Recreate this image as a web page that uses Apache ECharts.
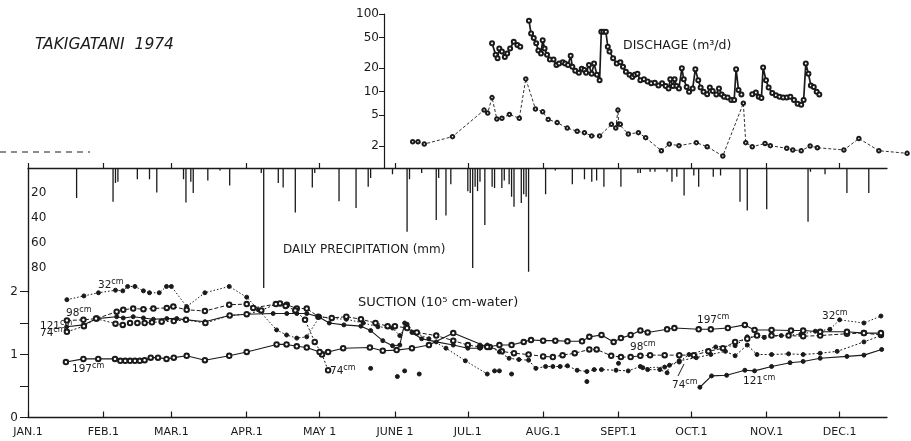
<!DOCTYPE html>
<html><head><meta charset="utf-8">
<script src="https://cdn.jsdelivr.net/npm/echarts@6/dist/echarts.min.js"></script>
<style>html,body{margin:0;padding:0;background:#fff}#c{width:911px;height:441px}</style>
</head><body><div id="c"></div>
<script>
// ---------- DATA (day of year 1974, 0 = Jan 1) ----------
const monthDays = [0,31,59,90,120,151,181,212,243,273,304,334];
const monthLabels = ['JAN.1','FEB.1','MAR.1','APR.1','MAY 1','JUNE 1','JUL.1','AUG.1','SEPT.1','OCT.1','NOV.1','DEC.1'];
const dischargeTicks = [2,5,10,20,50,100];
const precipTicks = [20,40,60,80];
const suctionTicks = [0,0.5,1,1.5,2];
const suctionLabels = [0,1,2];

// discharge (m3/d), solid line, three segments
const dischargeSeg1 = [[191.3,42],[192.8,30],[193.6,27],[194.3,36],[195.4,33],[196.6,28],[197.6,31],[198.8,36],[200.3,44],[201.8,40],[203.0,38]];
const dischargeSeg2 = [[206.6,82],[207.5,56],[208.6,49],[209.6,42],[210.5,34],[211.6,31],[212.3,46],[213.1,36],[214.1,30],[215.3,26],[216.8,26],[218.0,22],[219.1,23],[220.6,24],[221.6,23],[222.8,22],[223.9,29],[224.6,21],[225.8,18.6],[227.3,17.5],[228.5,19.8],[229.6,19],[230.3,17.5],[231.5,22],[232.6,17],[233.6,23],[234.8,16.5],[235.9,14],[236.6,59],[237.5,59],[238.5,59],[239.3,38],[240.0,33],[241.5,27],[243.0,23],[244.5,24],[245.6,21],[246.8,18],[248.3,16.5],[249.5,15.5],[250.5,16.5],[251.6,17],[252.8,14],[254.3,14.5],[255.8,13.5],[257.3,12.8],[258.8,13],[260.3,12],[261.8,12.8],[263.3,11.8],[264.5,11],[265.2,14.5],[266.3,11.8],[267.0,14.5],[267.8,11.8],[268.8,11],[270.0,20],[270.8,14.5],[272.0,11.5],[273.0,10],[274.5,11],[275.6,19.5],[276.8,14],[277.8,11.3],[279.0,10],[280.5,9.3],[281.6,11.3],[282.8,10.2],[284.3,9.2],[285.4,11],[286.5,9.2],[287.5,8.6],[289.0,8.4],[290.5,7.8],[291.7,7.8],[292.5,19.5],[293.5,10.5],[294.7,9.2]];
const dischargeSeg3 = [[299.2,9.3],[300.7,9.8],[301.9,8.6],[303.0,8.3],[303.7,20.5],[304.9,14],[306.0,11.3],[307.5,9.6],[309.0,9.0],[310.5,8.6],[312.0,8.4],[313.5,8.4],[315.0,8.6],[316.5,7.8],[318.0,7.0],[319.5,6.8],[320.5,7.8],[321.4,23],[322.5,17],[323.5,12],[324.7,11.5],[325.9,10],[327.0,9.2]];
// second discharge record, dashed line
const dischargeDashed = [[158.4,2.27],[160.6,2.27],[163.2,2.12],[174.9,2.64],[188.0,5.8],[189.5,5.3],[191.3,8.4],[193.3,4.45],[195.4,4.55],[198.5,5.1],[202.6,4.55],[205.3,14.6],[209.3,6.0],[212.3,5.5],[214.6,4.4],[218.3,4.0],[222.5,3.4],[226.6,3.1],[229.6,2.97],[232.6,2.7],[235.9,2.7],[240.8,3.8],[242.6,3.4],[243.5,5.8],[243.8,3.85],[244.5,3.8],[247.8,2.86],[252.0,2.97],[255.0,2.56],[261.5,1.74],[264.8,2.12],[268.8,2.02],[276.0,2.21],[280.5,1.96],[287.0,1.49],[295.5,7.1],[296.5,2.21],[299.2,1.96],[304.5,2.15],[306.7,2.02],[313.5,1.87],[316.0,1.78],[319.5,1.74],[323.2,2.0],[326.2,1.9],[337.2,1.78],[343.4,2.5],[351.7,1.74],[363.4,1.61]];

// daily precipitation (mm)
const precipitation = [[20,24],[35,27],[36,12],[37,11],[45,9],[50,9],[53,19.5],[64,9],[65,27.5],[67,11],[68,20],[74,10],[79,2],[83,14],[96,4],[97,96],[103,12],[105,15.5],[110,35.5],[117,15.5],[118,4],[128,26.5],[135,32],[140,15],[141,8],[150,5],[156,51],[157,9],[162,4],[168,41.5],[169,8],[172,38],[174,13],[181,18.5],[182,20],[183,80],[184,15],[185,18.5],[186,11],[188,45.5],[191,15],[192,16],[195,16],[196,10],[198,13],[199,23],[200,31],[203,28],[204,21],[205,23],[206,83],[213,21],[217,2],[224,13],[229,9],[232,11],[234,10],[237,15],[244,15],[251,4],[252,4],[256,3],[258,3],[263,3],[265,11],[267,7],[270,22],[274,6],[276,15],[282,7],[285,6],[293,27],[296,34],[304,33],[321,43],[322,3],[328,5],[337,20],[346,20]];

// suction (10^5 cm-water)
const suction32 = [[16,1.87],[23,1.93],[29,1.98],[36,2.02],[39,2.01],[41,2.08],[44,2.08],[47.5,2.01],[50,1.98],[54,1.98],[57,2.08],[59,2.08],[65.3,1.76],[72.8,1.98],[82.8,2.08],[90,1.91],[94.8,1.71],[102.3,1.39],[106.4,1.31],[110.6,1.26],[114.7,1.28],[120,1.6],[125,1.57],[131,1.56],[138,1.5],[144,1.44],[150,1.42],[153,1.3],[156,1.48],[159,1.35],[165,1.25],[172,1.1],[180,0.9],[189,0.69]];
const suction32dots = [[192,0.74],[194,0.74],[199,0.69],[230,0.57],[243,0.86]];
const suction32b = [[253,0.79],[262,0.8],[268,0.88],[272,1.0],[283,1.12],[291,1.14],[296,1.28],[303,1.27],[310,1.3],[318,1.32],[324,1.37],[330,1.4],[334,1.55],[344,1.5],[351,1.61]];
const suction98 = [[16,1.54],[22.8,1.55],[28.3,1.57],[36.5,1.68],[39.2,1.71],[43.3,1.73],[47.5,1.72],[51.6,1.73],[57.1,1.74],[59.8,1.76],[65.3,1.71],[72.8,1.69],[82.8,1.79],[90,1.8],[92.7,1.74],[103.7,1.81],[106.5,1.79],[110.6,1.73],[114.7,1.73],[119.5,1.6],[125,1.58],[131,1.6],[137,1.56],[143,1.5],[148,1.45],[151,1.45],[156,1.42],[160,1.35],[168,1.3],[175,1.22],[181,1.15],[186,1.12],[190,1.12],[195,1.05],[200,1.02],[206,1.0],[212,0.97],[216,0.96],[220,0.99],[225,1.02],[231,1.08],[234,1.08],[240,0.98],[244,0.96],[248,0.96],[252,0.98],[256,0.99],[262,0.99],[268,0.99],[274,0.99],[280,1.05],[286,1.1],[291,1.2],[296,1.25],[300,1.3],[306,1.3],[313,1.3],[319,1.29],[326,1.3],[337,1.33],[344,1.34],[351,1.31]];
const suction121a = [[15.9,1.44],[22.8,1.47],[28.3,1.57],[36.5,1.6],[39.2,1.58],[43.3,1.6],[47.5,1.58],[51.6,1.56],[57.1,1.57],[61.2,1.57],[65.3,1.55],[72.8,1.52],[82.8,1.62],[90,1.64],[100.9,1.65],[106.5,1.65],[110.6,1.65],[114.7,1.65],[119.5,1.6],[124,1.5],[130,1.47],[137,1.45],[141,1.38],[146,1.22],[150,1.14],[153,1.15],[155,1.5],[158,1.35],[162,1.25],[168,1.2],[175,1.15],[181,1.1],[186,1.1]];
const suction121b = [[276.5,0.48],[281.3,0.66],[287.5,0.67],[295,0.75],[299,0.74],[306,0.81],[313.6,0.87],[319,0.89],[326,0.94],[337,0.97],[344,0.99],[351.3,1.08]];
const suction74a = [[16,1.36],[23,1.45],[28,1.57],[36,1.49],[39,1.47],[42,1.5],[45,1.5],[48,1.5],[51,1.51],[55,1.52],[60,1.53],[65,1.55],[73,1.5],[83,1.62],[90,1.64],[96,1.7],[102,1.8],[106,1.77],[110,1.7],[114,1.55],[118,1.2],[121,1.0],[123.5,0.75]];
const suction74dots = [[141,0.78],[152,0.65],[155,0.74],[161,0.69]];
const suction74b = [[186,1.15],[189,1.15],[194,1.04],[198,0.94],[202,0.92],[206,0.91],[209,0.78],[213,0.81],[216,0.81],[219,0.81],[222,0.82],[226,0.75],[230,0.73],[233,0.76],[236,0.76],[242,0.75],[247,0.74],[252,0.81],[255,0.76],[260,0.76],[263,0.71],[264,0.83],[268,0.9],[275,0.95],[281,1.0],[287,1.05],[291,0.98],[296,1.15],[300,1.0],[306,1.0],[313,1.01],[319,1.0],[326,1.02],[333,1.05],[344,1.2],[351,1.3]];
const suction197 = [[15.6,0.88],[22.8,0.93],[28.9,0.93],[35.8,0.93],[38,0.9],[40,0.9],[42,0.9],[44,0.9],[46,0.9],[48,0.91],[50.5,0.95],[53.5,0.95],[57,0.93],[60,0.95],[65.3,0.98],[72.8,0.91],[82.8,0.98],[90,1.04],[102.3,1.16],[106.4,1.16],[110.6,1.13],[114.7,1.11],[120,1.04],[123.5,1.04],[129.7,1.1],[140.7,1.11],[146,1.06],[151.7,1.07],[158,1.1],[165,1.15],[175,1.34],[189,1.12],[194,1.15],[199,1.15],[204,1.2],[207,1.23],[212,1.22],[217,1.22],[222,1.21],[228,1.21],[231,1.28],[236,1.31],[241,1.2],[244,1.26],[248,1.31],[252,1.38],[255,1.35],[263,1.4],[266,1.42],[276,1.4],[281,1.4],[288,1.42],[295,1.47],[299,1.39],[306,1.39],[314,1.38],[319,1.38],[326,1.36],[337,1.36],[344,1.34],[351,1.34]];

// ---------- CHART ----------
const FONT = 'DejaVu Sans';
const INK = '#1a1a1a';
const PXD = 2.43; // px per day
const chart = echarts.init(document.getElementById('c'), null, {renderer:'canvas'});
const log = v => Math.log10(v);
const toLog = arr => arr.map(p => [p[0], log(p[1])]);

const qTop = 14, qBottom = 168, qPerDecade = 77.7;
const qMin = 2 - (qBottom - qTop) / qPerDecade;
const xLeft = 28, xEndDay = 353.5;
const qLeft = 384;

function hiddenX(idx, min, max){
  return {type:'value', gridIndex:idx, min, max, show:false};
}

const monthFmt = v => { const i = monthDays.indexOf(Math.round(v)); return i >= 0 ? monthLabels[i] : ''; };

const lineBase = (name, data, xi, yi, dash, symbol, width) => ({
  type:'line', name, data, xAxisIndex:xi, yAxisIndex:yi, animation:false,
  symbol, symbolSize: symbol === 'emptyCircle' ? 4.5 : 4,
  lineStyle:{color:INK, width: width || 1, type: dash},
  itemStyle:{color:INK, borderColor:INK, borderWidth:1},
  showSymbol:true, connectNulls:false, silent:true
});

const supLabel = (x, y, num) => ({
  type:'text', x, y, silent:true,
  style:{ text:'{a|' + num + '}{b|cm}', fill:INK, verticalAlign:'middle',
    rich:{ a:{fontFamily:FONT, fontSize:10.5, fill:INK}, b:{fontFamily:FONT, fontSize:8, fill:INK, verticalAlign:'top', padding:[0,0,6,0]} } }
});

const option = {
  backgroundColor:'#fff',
  animation:false,
  grid:[
    {left:qLeft, right:-4, top:qTop, bottom:441 - qBottom},        // discharge
    {left:xLeft, right:911 - (xLeft + PXD*xEndDay), top:168, height:125}, // precipitation
    {left:xLeft, right:911 - (xLeft + PXD*xEndDay), top:168, bottom:441-417.5} // suction
  ],
  xAxis:[
    hiddenX(0, (qLeft - xLeft)/PXD, (911 + 4 - xLeft)/PXD),
    {type:'value', gridIndex:1, min:0, max:xEndDay, position:'top',
      axisLine:{show:true, lineStyle:{color:INK, width:1.3}},
      axisTick:{show:true, inside:false, length:5, customValues:monthDays, lineStyle:{color:INK, width:1.2}},
      axisLabel:{show:false}, splitLine:{show:false}},
    {type:'value', gridIndex:2, min:0, max:xEndDay, position:'bottom',
      axisLine:{show:true, lineStyle:{color:INK, width:1.3}},
      axisTick:{show:true, inside:true, length:6, customValues:monthDays, lineStyle:{color:INK, width:1.2}},
      axisLabel:{show:true, customValues:monthDays, formatter:monthFmt, fontFamily:FONT, fontSize:11, color:INK, margin:9},
      splitLine:{show:false}}
  ],
  yAxis:[
    {type:'value', gridIndex:0, min:qMin, max:2, position:'left',
      axisLine:{show:true, lineStyle:{color:INK, width:1.2}},
      axisTick:{show:true, length:5, customValues:dischargeTicks.map(log), lineStyle:{color:INK}},
      axisLabel:{show:true, customValues:dischargeTicks.map(log), formatter:v => String(Math.round(Math.pow(10, v))), fontFamily:FONT, fontSize:12, color:INK, margin:5},
      splitLine:{show:false}},
    {type:'value', gridIndex:1, min:0, max:100, inverse:true, position:'left',
      axisLine:{show:true, lineStyle:{color:INK, width:1.2}},
      axisTick:{show:false},
      axisLabel:{show:true, inside:true, customValues:precipTicks, fontFamily:FONT, fontSize:12, color:INK, margin:3},
      splitLine:{show:false}},
    {type:'value', gridIndex:2, min:0, max:(417.5-168)/63, position:'left',
      axisLine:{show:true, lineStyle:{color:INK, width:1.2}},
      axisTick:{show:true, length:8, customValues:suctionTicks, lineStyle:{color:INK}},
      axisLabel:{show:true, customValues:suctionLabels, fontFamily:FONT, fontSize:12, color:INK, margin:10},
      splitLine:{show:false}}
  ],
  series:[
    Object.assign(lineBase('Q1', toLog(dischargeSeg1), 0, 0, 'solid', 'emptyCircle', 1.7), {symbolSize:4}),
    Object.assign(lineBase('Q2', toLog(dischargeSeg2), 0, 0, 'solid', 'emptyCircle', 1.7), {symbolSize:4}),
    Object.assign(lineBase('Q3', toLog(dischargeSeg3), 0, 0, 'solid', 'emptyCircle', 1.7), {symbolSize:4}),
    Object.assign(lineBase('Qd', toLog(dischargeDashed), 0, 0, [3,2], 'emptyCircle', 0.9), {symbolSize:3.5}),
    {type:'bar', name:'P', data:precipitation, xAxisIndex:1, yAxisIndex:1, barWidth:1.3,
      itemStyle:{color:INK}, animation:false, silent:true},
    lineBase('32cm', suction32, 2, 2, [1.5,2], 'circle', 1),
    Object.assign(lineBase('32cm dots', suction32dots, 2, 2, 'solid', 'circle', 1), {lineStyle:{width:0}}),
    lineBase('32cm b', suction32b, 2, 2, [1.5,2], 'circle', 1),
    lineBase('98cm', suction98, 2, 2, [4,2], 'emptyCircle', 1),
    lineBase('121cm a', suction121a, 2, 2, 'solid', 'circle', 1.1),
    lineBase('121cm b', suction121b, 2, 2, 'solid', 'circle', 1.1),
    lineBase('74cm a', suction74a, 2, 2, [2,2], 'emptyCircle', 1),
    Object.assign(lineBase('74cm dots', suction74dots, 2, 2, 'solid', 'circle', 1), {lineStyle:{width:0}}),
    lineBase('74cm b', suction74b, 2, 2, [2,2], 'circle', 1),
    lineBase('197cm', suction197, 2, 2, 'solid', 'emptyCircle', 1.1)
  ],
  graphic:[
    {type:'text', x:35, y:45, silent:true, style:{text:'TAKIGATANI  1974', fill:INK, verticalAlign:'middle',
      font:'italic 15.5px "DejaVu Sans"'}},
    {type:'text', x:623, y:46, silent:true, style:{text:'DISCHAGE (m³/d)', fill:INK, verticalAlign:'middle',
      font:'12.5px "DejaVu Sans"'}},
    {type:'text', x:283, y:250, silent:true, style:{text:'DAILY PRECIPITATION (mm)', fill:INK, verticalAlign:'middle',
      font:'12px "DejaVu Sans"'}},
    {type:'text', x:358, y:303, silent:true, style:{text:'SUCTION (10⁵ cm-water)', fill:INK, verticalAlign:'middle',
      font:'13px "DejaVu Sans"'}},
    {type:'line', silent:true, shape:{x1:0, y1:152, x2:90, y2:152}, style:{stroke:INK, lineWidth:1, lineDash:[6,5]}},
    supLabel(98, 285, '32'),
    supLabel(66, 313, '98'),
    supLabel(40, 326, '121'),
    supLabel(40, 333, '74'),
    supLabel(72, 369, '197'),
    supLabel(330, 371, '74'),
    supLabel(697, 320, '197'),
    supLabel(630, 347, '98'),
    supLabel(672, 385, '74'),
    {type:'line', silent:true, shape:{x1:678, y1:376, x2:684, y2:364}, style:{stroke:INK, lineWidth:1}},
    supLabel(743, 381, '121'),
    supLabel(822, 316, '32')
  ]
};
chart.setOption(option);
</script></body></html>
